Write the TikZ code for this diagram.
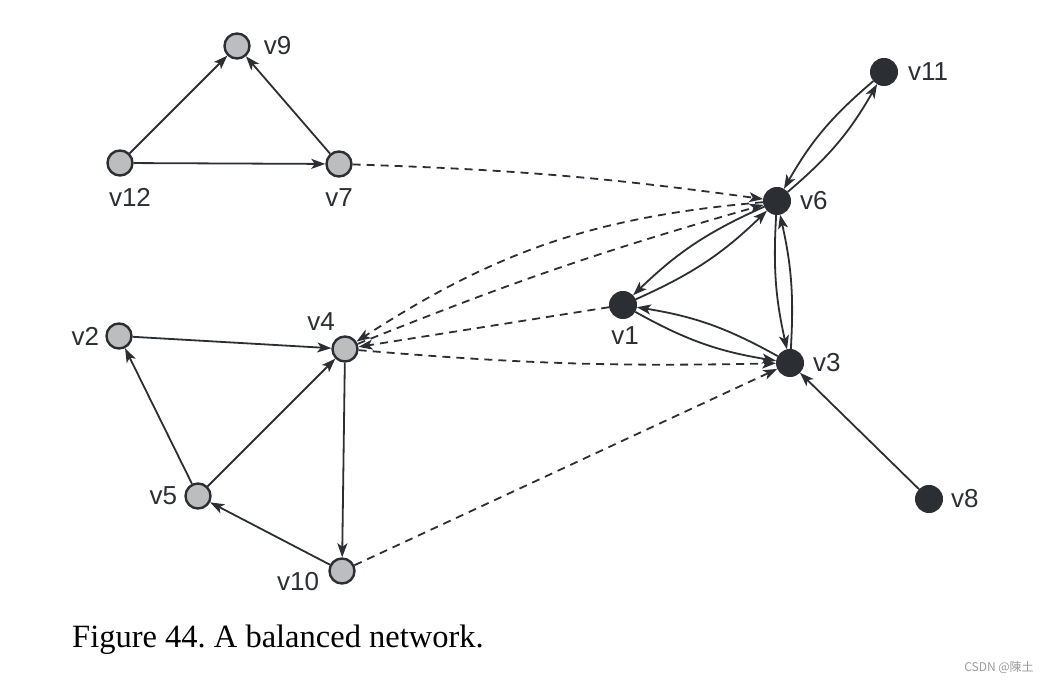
\documentclass[tikz,border=0pt]{standalone}
\usepackage{fontspec}
\newfontfamily\labelfont{Liberation Sans}
\newfontfamily\capfont{Liberation Serif}
\newfontfamily\cjkfont{Noto Sans CJK SC}
\usetikzlibrary{arrows.meta,positioning}
\frenchspacing

\definecolor{ink}{HTML}{2B2E33}
\definecolor{greyfill}{HTML}{BCBDBF}
\definecolor{markgrey}{HTML}{9A9A9A}

\tikzset{
	gnode/.style={circle, draw=ink, line width=2.4pt, fill=greyfill, minimum size=25pt, inner sep=0pt},
	bnode/.style={circle, draw=ink, line width=1pt, fill=ink, minimum size=27pt, inner sep=0pt},
	lbl/.style={font=\labelfont\fontsize{26}{26}\selectfont, text=ink, inner sep=0pt},
	arc/.style={draw=ink, line width=1.8pt, -{Stealth[length=14pt,width=10pt,inset=3.5pt]}},
	darc/.style={arc, dash pattern=on 8pt off 6pt},
}

\begin{document}
\begin{tikzpicture}[x=1pt, y=-1pt]
		\useasboundingbox (0,0) rectangle (1047,684);

		% grey vertices
		\node[gnode] (v9) at (237,46) {};
		\node[gnode] (v12) at (120,163) {};
		\node[gnode] (v7) at (339,164) {};
		\node[gnode] (v2) at (119,336) {};
		\node[gnode] (v4) at (345,349) {};
		\node[gnode] (v5) at (198,496) {};
		\node[gnode] (v10) at (342,571) {};

		% black vertices
		\node[bnode] (v11) at (884,72) {};
		\node[bnode] (v6) at (777,201) {};
		\node[bnode] (v1) at (623,305) {};
		\node[bnode] (v3) at (790,363) {};
		\node[bnode] (v8) at (929,499) {};

		% labels
		\node[lbl, right=13pt of v9] (l9) {v9};
		\node[lbl, below=11pt of v12, xshift=10pt] (l12) {v12};
		\node[lbl, below=11pt of v7] (l7) {v7};
		\node[lbl, left=6pt of v2] (l2) {v2};
		\node[lbl, anchor=south east] (l4) at ([xshift=-10pt, yshift=5pt]v4.north) {v4};
		\node[lbl, left=7pt of v5] (l5) {v5};
		\node[lbl, anchor=north east] (l10) at ([xshift=-9pt, yshift=-1pt]v10.west) {v10};
		\node[lbl, right=10pt of v11] (l11) {v11};
		\node[lbl, right=9pt of v6] (l6) {v6};
		\node[lbl, below=7pt of v1, xshift=2pt] (l1) {v1};
		\node[lbl, right=9pt of v3] (l3) {v3};
		\node[lbl, right=8pt of v8] (l8) {v8};

		% solid edges
		\draw[arc] (v12) -- (v9);
		\draw[arc] (v12) -- (v7);
		\draw[arc] (v7) -- (v9);
		\draw[arc] (v2) -- (v4);
		\draw[arc] (v5) -- (v2);
		\draw[arc] (v5) -- (v4);
		\draw[arc] (v4) -- (v10);
		\draw[arc] (v10) -- (v5);
		\draw[arc] (v8) -- (v3);

		\draw[arc] (v11) to[bend right=10] (v6);
		\draw[arc] (v6) to[bend right=10] (v11);
		\draw[arc] (v6) to[bend right=10] (v1);
		\draw[arc] (v1) to[bend right=10] (v6);
		\draw[arc] (v3) to[bend right=10] (v1);
		\draw[arc] (v1) to[bend right=10] (v3);
		\draw[arc] (v6) to[bend right=8] (v3);
		\draw[arc] (v3) to[bend right=8] (v6);

		% dashed edges
		\draw[darc] (v7) to[bend left=3] (v6);
		\draw[darc] (v6) to[bend right=14] (v4);
		\draw[darc] (v4) to[bend left=3] (v6);
		\draw[darc] (v1) -- (v4);
		\draw[darc] (v4) to[bend right=3] (v3);
		\draw[darc] (v10) -- (v3);

		% caption and mark
		\node[font=\capfont\fontsize{32.5}{32.5}\selectfont, text=black, inner sep=0pt, anchor=base west] (cap) at (72,647) {Figure 44. A balanced network.};
		\node[font=\cjkfont\fontsize{12}{12}\selectfont, text=markgrey, inner sep=0pt] (mark) at (999,668) {CSDN @陳土};
	\end{tikzpicture}
\end{document}
